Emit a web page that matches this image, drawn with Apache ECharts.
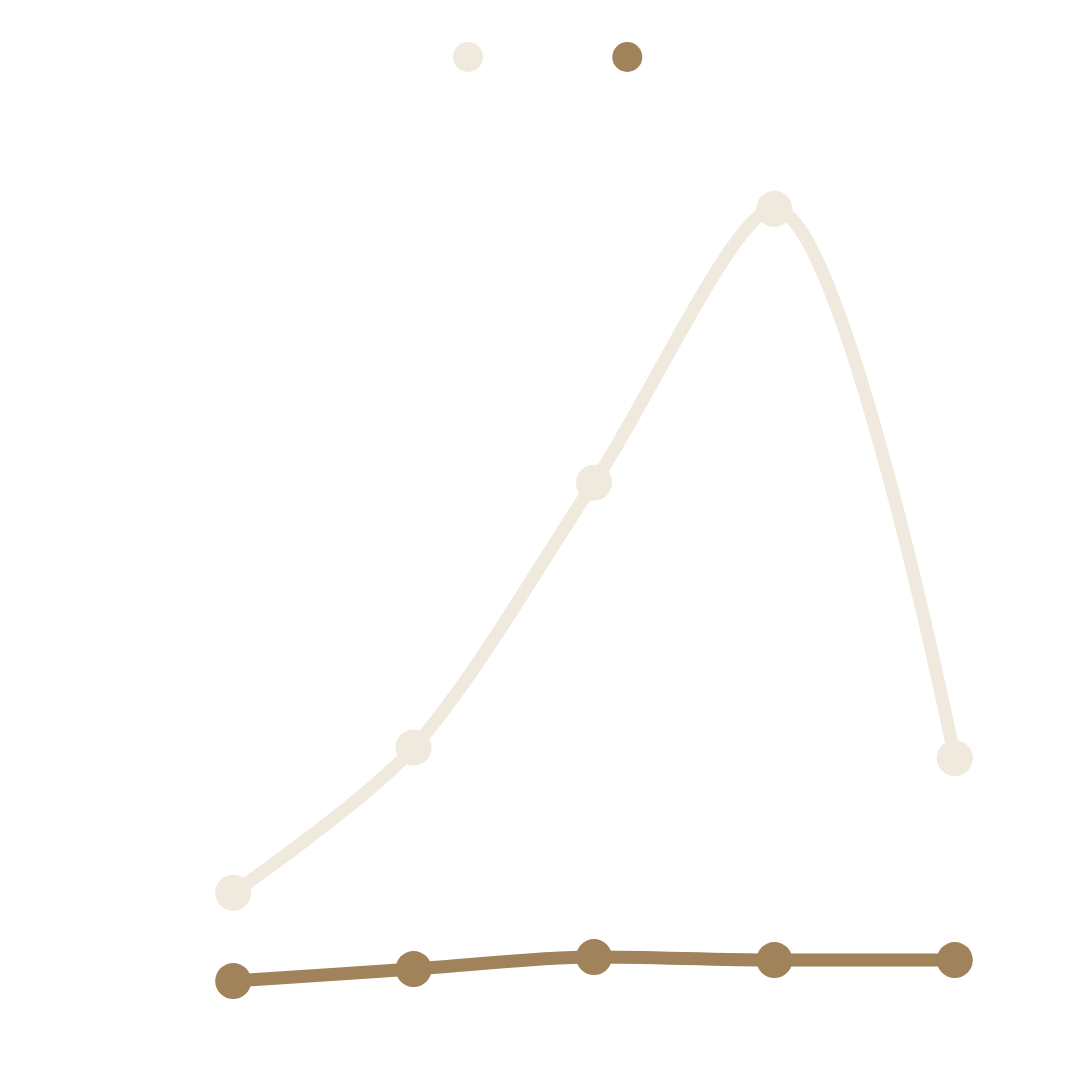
<!DOCTYPE html>
<html>
<head>
<meta charset="utf-8">
<script src="https://cdn.jsdelivr.net/npm/echarts@6/dist/echarts.min.js"></script>
<style>
  html, body { margin: 0; padding: 0; background: #fff; }
  #main { width: 1080px; height: 1080px; }
</style>
</head>
<body>
<div id="main"></div>
<script>
var months = ['Jan', 'Feb', 'Mar', 'Apr', 'May'];
var seriesNames = ['2022', '2021'];
var values2022 = [7500, 17200, 34900, 53200, 16500];
var values2021 = [1600, 2400, 3200, 3000, 3000];

var myChart = echarts.init(document.getElementById('main'));
// chart options
var option = {
  backgroundColor: '#ffffff',
  color: ['#f0e9dd', '#a0825b'],
  legend: {
    top: 37,
    left: 448,
    icon: 'circle',
    itemWidth: 50,
    itemHeight: 30,
    itemGap: 52,
    data: seriesNames,
    textStyle: { color: '#ffffff', fontSize: 28 }
  },
  grid: {
    left: 143,
    right: 35,
    top: 107,
    bottom: 75
  },
  xAxis: {
    type: 'category',
    data: months,
    boundaryGap: true,
    axisLine: { show: false },
    axisTick: { show: false },
    axisLabel: { color: '#ffffff', fontSize: 26, margin: 20 }
  },
  yAxis: {
    type: 'value',
    min: 0,
    max: 60000,
    interval: 10000,
    splitLine: { show: false },
    axisLabel: { color: '#ffffff', fontSize: 26, margin: 20 }
  },
  series: [{
    name: seriesNames[0],
    type: 'line',
    smooth: 0.3,
    data: values2022,
    symbol: 'circle',
    symbolSize: 36,
    lineStyle: { width: 13 }
  }, {
    name: seriesNames[1],
    type: 'line',
    smooth: 0.3,
    data: values2021,
    symbol: 'circle',
    symbolSize: 36,
    lineStyle: { width: 13 }
  }]
};

myChart.setOption(option);
</script>
</body>
</html>
